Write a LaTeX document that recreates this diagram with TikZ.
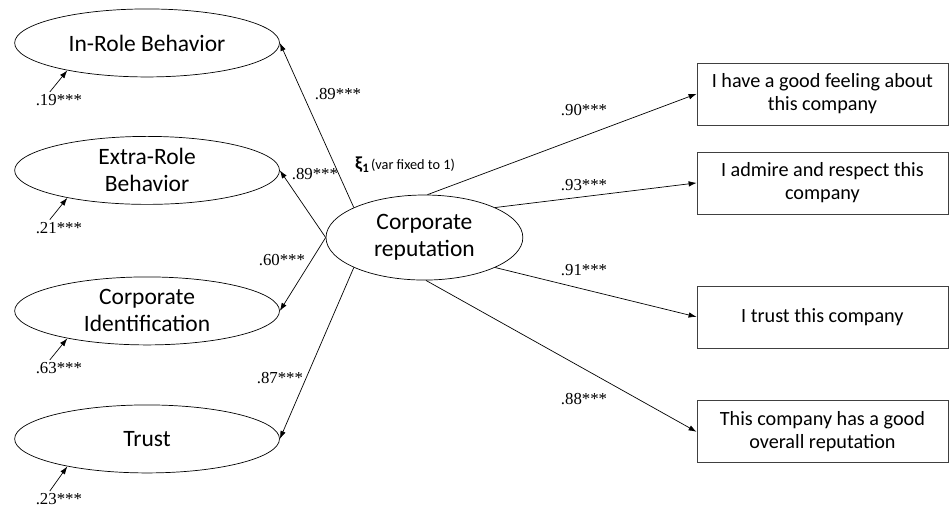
\documentclass[tikz,border=0pt]{standalone}
\usepackage{fontspec}
\setmainfont{Carlito}
\newfontfamily\numfont{Liberation Serif}
\usepackage{tikz}
\usetikzlibrary{calc, positioning, arrows.meta, shapes.geometric}

\begin{document}
\begin{tikzpicture}[
  x=1cm, y=1cm,
  latent/.style={draw, ellipse, inner sep=0pt, minimum width=9.31cm,
                 minimum height=2.39cm, align=center, line width=0.7pt,
                 font=\fontsize{23.5}{27}\selectfont},
  core/.style={latent, minimum width=6.92cm, minimum height=2.99cm},
  item/.style={draw, minimum width=8.82cm, minimum height=2.18cm,
               align=center, line width=0.7pt, draw=black!75,
               font=\fontsize{20.2}{23}\selectfont},
  arr/.style={->, >={Latex[length=8pt, width=5.5pt]}, line width=0.7pt},
  lbl/.style={font=\numfont\fontsize{16.8}{18}\selectfont, inner sep=2pt}
]
\useasboundingbox (0,0) rectangle (33.36,17.82);

%% ——— Factor central ———
\node[core] (rep) at (14.92, 9.47) {Corporate\\reputation};
\node[anchor=west, inner sep=0pt] (xi) at (12.48, 12.02)
  {{\bfseries\fontsize{18.5}{20}\selectfont ξ\textsubscript{1}}\,{\fontsize{14.3}{16}\selectfont (var fixed to 1)}};

%% ——— Variables latentes (izquierda) ———
\node[latent] (inrole) at (5.17, 16.31) {In-Role Behavior};
\node[latent] (extra)  at (5.17, 11.83) {Extra-Role\\Behavior};
\node[latent] (corpid) at (5.17,  6.89) {Corporate\\Identification};
\node[latent] (trust)  at (5.17,  2.39) {Trust};

%% ——— Indicadores (derecha) ———
\node[item] (feel)    at (28.91, 14.52) {I have a good feeling about\\this company};
\node[item] (admire)  at (28.91, 11.39) {I admire and respect this\\company};
\node[item] (trustco) at (28.91,  6.68) {I trust this company};
\node[item] (overall) at (28.91,  2.64) {This company has a good\\overall reputation};

%% ——— Cargas hacia la izquierda ———
\draw[arr] (rep.157)  -- (inrole.east);
\draw[arr] (rep.west) -- (extra.east);
\draw[arr] (rep.west) -- (corpid.east);
\draw[arr] (rep.203)  -- (trust.east);

\node[lbl] (l1) at (11.88, 14.52) {.89***};
\node[lbl] (l2) at (11.07, 11.70) {.89***};
\node[lbl] (l3) at ( 9.91,  8.68) {.60***};
\node[lbl] (l4) at ( 9.84,  4.53) {.87***};

%% ——— Cargas hacia la derecha ———
\draw[arr] (rep.86)  -- (feel.west);
\draw[arr] (rep.23)  -- (admire.west);
\draw[arr] (rep.-23) -- (trustco.west);
\draw[arr] (rep.-88) -- (overall.west);

\node[lbl] (r1) at (20.53, 13.95) {.90***};
\node[lbl] (r2) at (20.53, 11.32) {.93***};
\node[lbl] (r3) at (20.53,  8.33) {.91***};
\node[lbl] (r4) at (20.53,  3.80) {.88***};

%% ——— Errores ———
\node[lbl] (e1) at (2.07, 14.31) {.19***};
\node[lbl] (e2) at (2.07,  9.82) {.21***};
\node[lbl] (e3) at (2.07,  4.89) {.63***};
\node[lbl] (e4) at (2.07,  0.28) {.23***};

\draw[arr] ([xshift=-0.32cm]e1.north) -- (inrole.199);
\draw[arr] ([xshift=-0.32cm]e2.north) -- (extra.199);
\draw[arr] ([xshift=-0.32cm]e3.north) -- (corpid.199);
\draw[arr] ([xshift=-0.32cm]e4.north) -- (trust.199);

\end{tikzpicture}
\end{document}
